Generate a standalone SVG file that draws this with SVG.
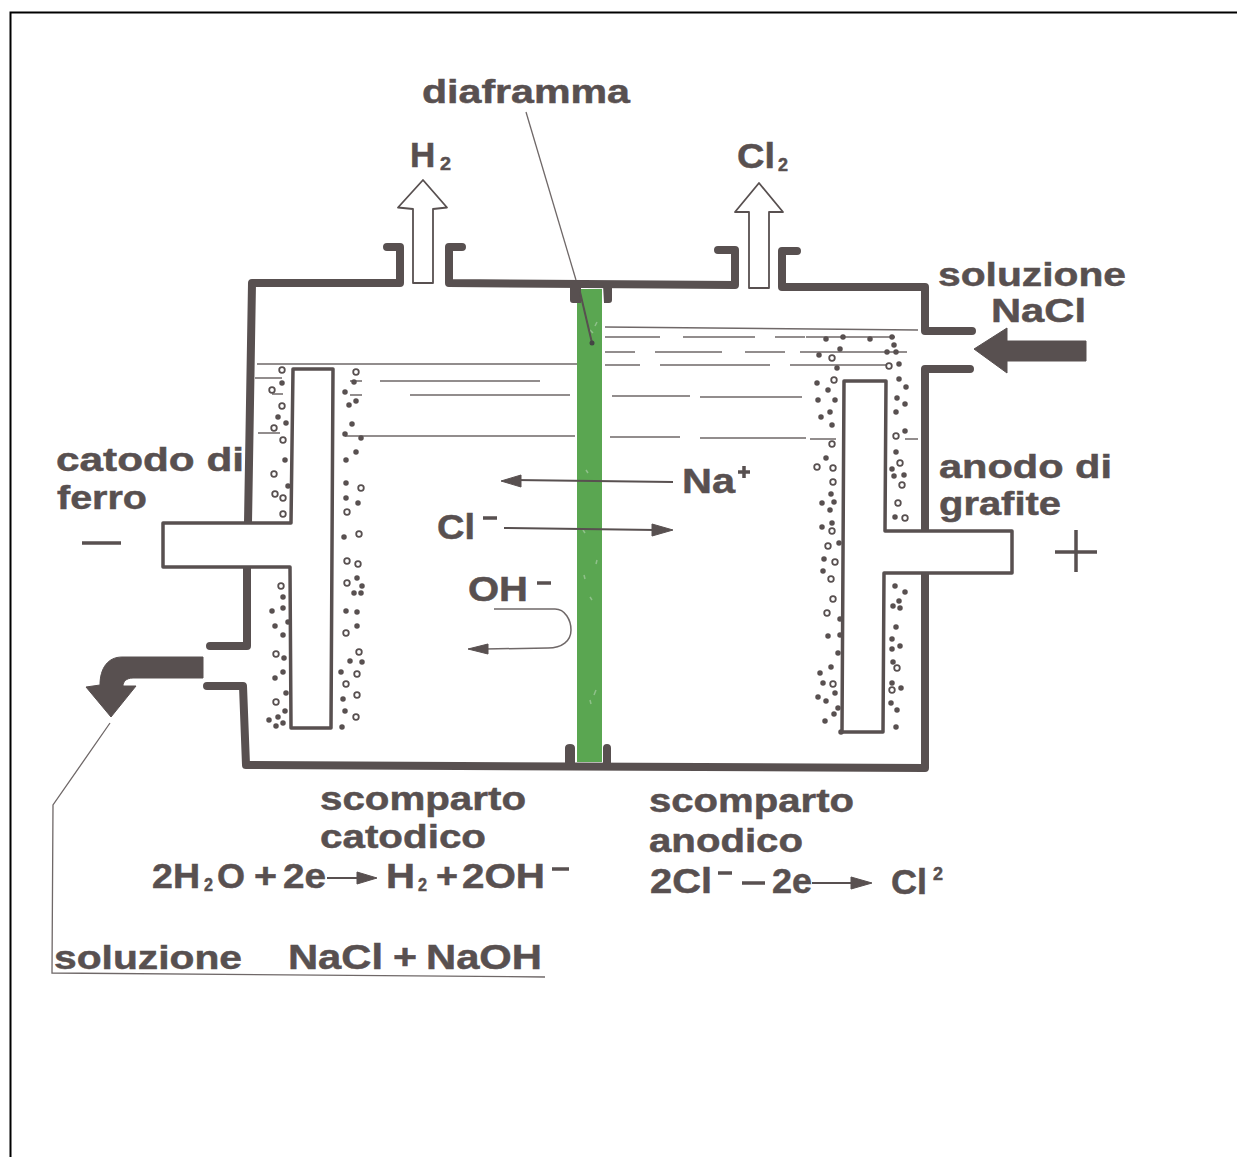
<svg xmlns="http://www.w3.org/2000/svg" width="1237" height="1157" viewBox="0 0 1237 1157">
<defs><style>
text{font-family:"Liberation Sans",Arial,sans-serif;font-weight:700;fill:#585050;stroke:#585050;stroke-width:.5}
.wall{fill:none;stroke:#585050;stroke-width:8;stroke-linecap:round;stroke-linejoin:round}
.foot{fill:#585050}
.el{fill:#fff;stroke:#585050;stroke-width:3.500;stroke-linejoin:round}
.thin{fill:none;stroke:#6f6868;stroke-width:1.300}
.thick{fill:none;stroke:#585050;stroke-width:2}
.curve{fill:none;stroke:#6f6868;stroke-width:1.500}
.gas{fill:#fff;stroke:#585050;stroke-width:1.800;stroke-linejoin:round}
.solid{fill:#585050;stroke:#585050;stroke-width:1;stroke-linejoin:round}
.dots{fill:none;stroke:#585050;stroke-width:5.500;stroke-linecap:round}
.o circle{fill:#fff;stroke:#585050;stroke-width:1.800;r:2.800px}
.t{font-size:34px}
.e{font-size:35px}
.s{font-size:18px}
</style></defs>
<rect width="1237" height="1157" fill="#fff"/>
<path d="M1237 12.500H10.500V1157" fill="none" stroke="#000" stroke-width="2"/>

<g id="diaphragm">
<rect x="577" y="289" width="25" height="473" fill="#5aa651"/>
<path d="M590 330l3 3M597 322l-2 4M583 530l2 3M596 690l-2 5M590 700l1 4M586 470l2 3M597 560l-1 4M584 575l1 4M590 597l2 3" stroke="#8fc08a" stroke-width="1.500"/>
</g>

<g id="water">
<path class="thin" d="M257 364H577M255 378H282M272 394H283M258 433H280M350 381H362M380 381H540M350 395H362M410 395H570M345 436H575"/>
<path class="thin" d="M605 327L918 330M605 337H660M683 337H755M775 337H805M806 337H895M605 352H635M655 352H722M745 352H785M800 352H907M605 365H640M660 365H770M790 365H890M612 396H690M700 397H802M610 437H680M700 438H806M810 439H836M905 439H918"/>
</g>

<g id="bubbles">
<path class="dots" d="M282 383h.01M278 417h.01M286 423h.01M285 460h.01M288 486h.01M283 597h.01M283 608h.01M272 611h.01M288 622h.01M275 626h.01M283 635h.01M284 658h.01M283 672h.01M275 678h.01M286 693h.01M285 711h.01M269 720h.01M278 717h.01M276 726h.01M283 723h.01M354 382h.01M345 392h.01M356 401h.01M349 405h.01M352 424h.01M345 434h.01M361 438h.01M356 452h.01M346 460h.01M346 483h.01M346 498h.01M358 503h.01M344 537h.01M357 578h.01M362 586h.01M361 593h.01M354 593h.01M346 611h.01M357 612h.01M357 626h.01M350 661h.01M362 662h.01M341 672h.01M343 699h.01M345 711h.01M342 727h.01M826 339h.01M843 337h.01M870 339h.01M892 337h.01M894 345h.01M840 349h.01M819 355h.01M887 352h.01M896 352h.01M837 368h.01M899 364h.01M899 379h.01M817 383h.01M906 387h.01M828 390h.01M818 400h.01M835 400h.01M897 398h.01M905 404h.01M830 412h.01M821 417h.01M896 412h.01M832 425h.01M905 431h.01M826 458h.01M896 452h.01M892 469h.01M894 476h.01M904 475h.01M831 494h.01M822 503h.01M834 502h.01M830 510h.01M895 517h.01M822 527h.01M832 523h.01M839 543h.01M824 559h.01M823 571h.01M840 619h.01M828 636h.01M840 635h.01M838 653h.01M831 667h.01M820 673h.01M823 683h.01M835 693h.01M818 697h.01M826 701h.01M838 708h.01M834 714h.01M825 721h.01M841 732h.01M895 586h.01M905 592h.01M899 601h.01M893 606h.01M900 608h.01M896 627h.01M892 639h.01M900 646h.01M892 649h.01M893 662h.01M892 683h.01M901 688h.01M891 703h.01M897 710h.01M896 727h.01"/>
<g class="o">
<circle cx="282" cy="370"/><circle cx="272" cy="390"/><circle cx="282" cy="406"/><circle cx="274" cy="428"/><circle cx="283" cy="440"/><circle cx="274" cy="474"/><circle cx="275" cy="494"/><circle cx="283" cy="498"/><circle cx="283" cy="514"/><circle cx="281" cy="586"/><circle cx="276" cy="654"/><circle cx="276" cy="702"/>
<circle cx="356" cy="372"/><circle cx="361" cy="488"/><circle cx="347" cy="512"/><circle cx="359" cy="534"/><circle cx="347" cy="561"/><circle cx="358" cy="564"/><circle cx="347" cy="583"/><circle cx="346" cy="633"/><circle cx="359" cy="652"/><circle cx="357" cy="674"/><circle cx="346" cy="684"/><circle cx="357" cy="695"/><circle cx="356" cy="717"/>
<circle cx="832" cy="358"/><circle cx="889" cy="366"/><circle cx="834" cy="380"/><circle cx="896" cy="436"/><circle cx="832" cy="444"/><circle cx="817" cy="467"/><circle cx="833" cy="468"/><circle cx="900" cy="463"/><circle cx="902" cy="485"/><circle cx="833" cy="482"/><circle cx="898" cy="503"/><circle cx="905" cy="518"/><circle cx="832" cy="531"/><circle cx="828" cy="546"/><circle cx="835" cy="562"/><circle cx="831" cy="579"/><circle cx="833" cy="599"/><circle cx="827" cy="613"/><circle cx="897" cy="668"/><circle cx="892" cy="690"/><circle cx="833" cy="684"/>
</g>
</g>

<g id="cell">
<path class="wall" d="M387 247H400V283H252L248 523M247 567V646H210M207 686H243L246 765L925 768L925 369H970M972 331H925V287H782V251H797M462 247H449V283L735 285V250H718"/>
<path class="foot" d="M570 285H581V303H573Q570 303 570 300ZM603 285H612V300Q612 303 609 303H604ZM565 764V748Q565 744 570 744T575 748V764ZM603 764V748Q603 744 607 744T611 748V764Z"/>
</g>

<g id="cathode"><path class="el" d="M163 523H291L293 369H333L331 728H291L290 567H163Z"/></g>
<g id="anode"><path class="el" d="M844 381H886L885 531H1012V573H884L883 732H842Z"/></g>

<g id="connectors">
<path class="gas" d="M423 180L398 207.500L413 209V283H433V209L447 207.500Z"/>
<path class="gas" d="M759 183L735 212H749V288H769V212H783Z"/>
<path class="solid" d="M1086 341V361H1007V373L974 349L1007 328V341Z"/>
<path class="solid" d="M203 657V678H133C126 678 123 682 123 686L136 686L111 717L86 687L100 685C100 668 108 657 122 657Z"/>
<path class="thin" d="M110 723L53 805L52 973L545 977"/>
<path class="thin" d="M526 112L576 280"/>
<path class="thick" d="M580 292L592 343"/>
<circle cx="592" cy="343" r="2.500" fill="#444"/>
<path class="thick" d="M673 482L515 480"/><path class="solid" d="M501 481L521 475V487Z"/>
<path class="thick" d="M504 528L656 530"/><path class="solid" d="M673 530L652 524V536Z"/>
<path class="curve" d="M494 609H555C565 609 571 620 571 630C571 641 562 648 548 648L485 649"/><path class="solid" d="M468 649L488 644V654Z"/>
<path class="thick" stroke-width="3" d="M327 878H362"/><path class="solid" d="M377 878L357 872V884Z"/>
<path class="thick" stroke-width="3" d="M812 883H852"/><path class="solid" d="M872 883L851 877V889Z"/>
<path stroke="#585050" stroke-width="3.500" d="M82 543H121M1055 552H1097M1076 530V572M483 518H497M537 583H551M552 869H569M718 873H732M742 883H765M738 472H750M744 466V478"/>
</g>

<g id="labels">
<text x="422" y="103" class="t" textLength="208" lengthAdjust="spacingAndGlyphs">diaframma</text>
<text x="410" y="167" class="e">H</text><text x="440" y="170" class="s" textLength="11" lengthAdjust="spacingAndGlyphs">2</text>
<text x="737" y="168" class="e" textLength="38" lengthAdjust="spacingAndGlyphs">Cl</text><text x="778" y="171" class="s" textLength="10" lengthAdjust="spacingAndGlyphs">2</text>
<text x="938" y="286" class="t" textLength="188" lengthAdjust="spacingAndGlyphs">soluzione</text>
<text x="991" y="322" class="t" textLength="95" lengthAdjust="spacingAndGlyphs">NaCl</text>
<text x="56" y="471" class="t" textLength="188" lengthAdjust="spacingAndGlyphs">catodo di</text>
<text x="57" y="509" class="t" textLength="90" lengthAdjust="spacingAndGlyphs">ferro</text>
<text x="939" y="478" class="t" textLength="173" lengthAdjust="spacingAndGlyphs">anodo di</text>
<text x="939" y="515" class="t" textLength="122" lengthAdjust="spacingAndGlyphs">grafite</text>
<text x="682" y="493" class="e" textLength="53" lengthAdjust="spacingAndGlyphs">Na</text>
<text x="437" y="539" class="e" textLength="38" lengthAdjust="spacingAndGlyphs">Cl</text>
<text x="468" y="601" class="e" textLength="60" lengthAdjust="spacingAndGlyphs">OH</text>
<text x="320" y="810" class="t" textLength="206" lengthAdjust="spacingAndGlyphs">scomparto</text>
<text x="320" y="848" class="t" textLength="166" lengthAdjust="spacingAndGlyphs">catodico</text>
<text x="152" y="888" class="e" textLength="48" lengthAdjust="spacingAndGlyphs">2H</text>
<text x="204" y="891" class="s" textLength="9" lengthAdjust="spacingAndGlyphs">2</text>
<text x="217" y="888" class="e" textLength="28" lengthAdjust="spacingAndGlyphs">O</text>
<text x="254" y="888" class="e" textLength="23" lengthAdjust="spacingAndGlyphs">+</text>
<text x="283" y="888" class="e" textLength="43" lengthAdjust="spacingAndGlyphs">2e</text>
<text x="386" y="888" class="e" textLength="29" lengthAdjust="spacingAndGlyphs">H</text>
<text x="418" y="891" class="s" textLength="9" lengthAdjust="spacingAndGlyphs">2</text>
<text x="436" y="888" class="e" textLength="22" lengthAdjust="spacingAndGlyphs">+</text>
<text x="462" y="888" class="e" textLength="83" lengthAdjust="spacingAndGlyphs">2OH</text>
<text x="649" y="812" class="t" textLength="205" lengthAdjust="spacingAndGlyphs">scomparto</text>
<text x="649" y="852" class="t" textLength="154" lengthAdjust="spacingAndGlyphs">anodico</text>
<text x="650" y="893" class="e" textLength="62" lengthAdjust="spacingAndGlyphs">2Cl</text>
<text x="772" y="893" class="e" textLength="40" lengthAdjust="spacingAndGlyphs">2e</text>
<text x="891" y="894" class="e" textLength="36" lengthAdjust="spacingAndGlyphs">Cl</text>
<text x="933" y="880" class="s" textLength="10" lengthAdjust="spacingAndGlyphs">2</text>
<text x="54" y="969" class="t" textLength="188" lengthAdjust="spacingAndGlyphs">soluzione</text>
<text x="288" y="969" class="e" textLength="95" lengthAdjust="spacingAndGlyphs">NaCl</text>
<text x="393" y="969" class="e" textLength="24" lengthAdjust="spacingAndGlyphs">+</text>
<text x="426" y="969" class="e" textLength="116" lengthAdjust="spacingAndGlyphs">NaOH</text>
</g>
</svg>
